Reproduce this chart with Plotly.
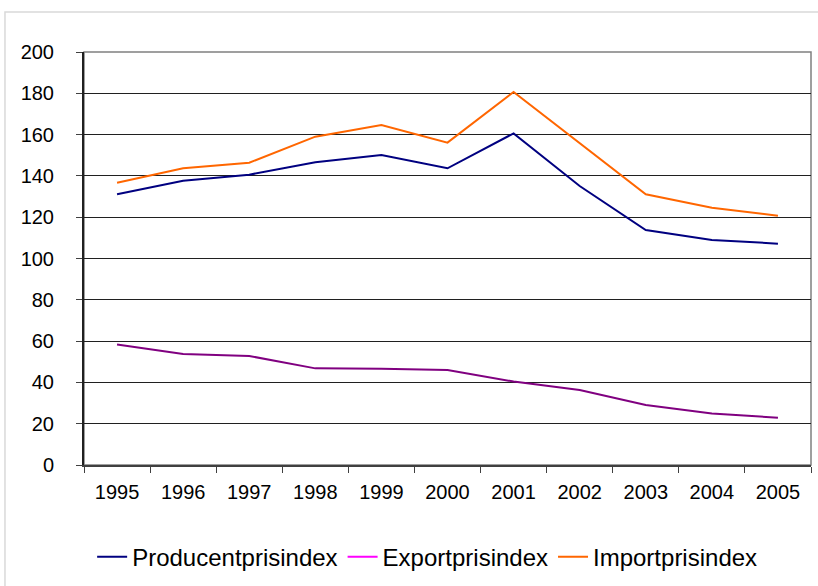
import plotly.graph_objects as go

years = ["1995", "1996", "1997", "1998", "1999", "2000", "2001", "2002", "2003", "2004", "2005"]
producent = [131.1, 137.7, 140.6, 146.6, 150.1, 143.7, 160.6, 135.1, 113.8, 109.0, 107.2]
export = [58.4, 53.8, 52.8, 46.8, 46.6, 46.0, 40.4, 36.3, 29.1, 25.0, 22.9]
importp = [136.7, 143.7, 146.4, 159.0, 164.6, 156.1, 180.6, 155.8, 131.1, 124.6, 120.7]
y_ticks = [0, 20, 40, 60, 80, 100, 120, 140, 160, 180, 200]

FONT = "Liberation Sans, Arial, sans-serif"

fig = go.Figure()
fig.add_trace(go.Scatter(x=years, y=producent, mode="lines", name="Producentprisindex",
                         line=dict(color="#000080", width=2)))
fig.add_trace(go.Scatter(x=years, y=export, mode="lines", name="Exportprisindex",
                         line=dict(color="#800080", width=2), showlegend=False))
fig.add_trace(go.Scatter(x=[None], y=[None], mode="lines", name="Exportprisindex",
                         line=dict(color="#FF00FF", width=2)))
fig.add_trace(go.Scatter(x=years, y=importp, mode="lines", name="Importprisindex",
                         line=dict(color="#FF6600", width=2)))

fig.update_layout(
    width=818, height=586,
    margin=dict(l=84, r=7, t=52, b=121, autoexpand=False),
    paper_bgcolor="white", plot_bgcolor="white",
    font=dict(family=FONT, size=20, color="black"),
    showlegend=True,
    legend=dict(orientation="h", x=0.472, xanchor="center", y=-0.223, yanchor="middle",
                font=dict(size=24), itemwidth=30, tracegroupgap=0),
    shapes=[dict(type="rect", xref="paper", yref="paper", x0=-0.1087, y0=-0.35,
                 x1=1.1, y1=1.0969, line=dict(color="#d9d9d9", width=1.5), layer="below"),
            dict(type="rect", xref="paper", yref="paper", x0=0, y0=0, x1=1, y1=1,
                 line=dict(color="#808080", width=1.5), layer="below")],
)
fig.update_xaxes(type="category", range=[-0.5, 10.5], tickson="boundaries", ticks="outside",
                 ticklen=6, tickcolor="#404040", showline=True, linecolor="#404040", linewidth=2,
                 showgrid=False, tickfont=dict(size=20), ticklabelstandoff=8)
fig.update_yaxes(range=[0, 200], tickvals=y_ticks, ticks="outside", ticklen=6,
                 tickcolor="#404040", showline=True, linecolor="#202020", linewidth=2,
                 showgrid=True, gridcolor="#202020", gridwidth=1, zeroline=False,
                 tickfont=dict(size=20), ticklabelstandoff=18)

fig.write_html("out.html", config={"displayModeBar": False},
               post_script="document.body.style.margin='0';")
